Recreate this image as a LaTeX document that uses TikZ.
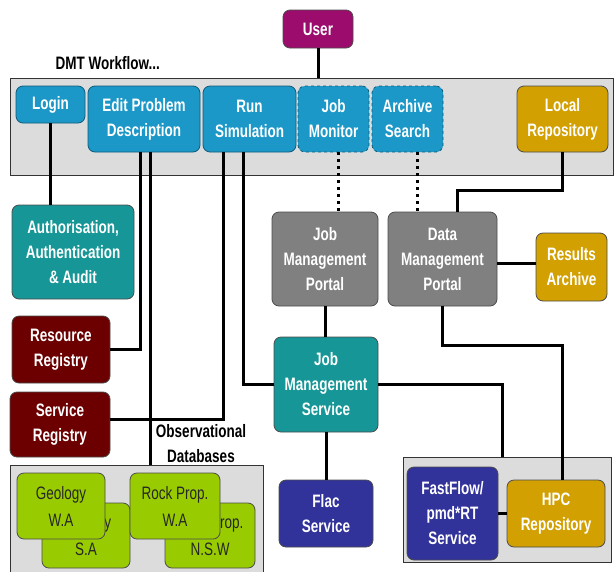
\documentclass[tikz,border=0pt]{standalone}
\usepackage{fontspec}
\setmainfont{Liberation Sans}[FakeStretch=0.75]

\definecolor{wfblue}{RGB}{28,152,200}
\definecolor{wfteal}{RGB}{22,150,150}
\definecolor{wfred}{RGB}{108,0,0}
\definecolor{wfgray}{RGB}{128,128,128}
\definecolor{wfgold}{RGB}{210,160,0}
\definecolor{wfnavy}{RGB}{50,50,155}
\definecolor{wfpurple}{RGB}{155,12,108}
\definecolor{wfgreen}{RGB}{153,204,0}
\definecolor{wfband}{RGB}{220,220,220}

\tikzset{
  box/.style={rounded corners=7pt, draw=black!70, line width=0.8pt, align=center,
    inner sep=0pt, text=white, font=\fontsize{18}{25}\selectfont\bfseries},
  bluebox/.style={box, fill=wfblue, draw=wfblue!60!black},
  monbox/.style={bluebox, dashed},
  tealbox/.style={box, fill=wfteal},
  redbox/.style={box, fill=wfred},
  graybox/.style={box, fill=wfgray},
  goldbox/.style={box, fill=wfgold},
  navybox/.style={box, fill=wfnavy},
  dbbox/.style={box, fill=wfgreen, text=black!85, font=\fontsize{18}{27}\selectfont},
  band/.style={draw=black!80, line width=0.8pt, fill=wfband, inner sep=0pt},
  link/.style={line width=3pt},
  dotlink/.style={line width=3pt, dash pattern=on 3pt off 4pt},
  title/.style={font=\fontsize{18}{25}\selectfont\bfseries, align=center}
}

\begin{document}
\begin{tikzpicture}[x=1pt, y=-1pt]
  \useasboundingbox (0,0) rectangle (615,571);

  % grey areas
  \node[band, minimum width=603pt, minimum height=97pt] (workflow) at (311.5,126.5) {};
  \node[band, minimum width=253pt, minimum height=110pt] (obsdb) at (136.5,520) {};
  \node[band, minimum width=208pt, minimum height=105pt] (hpcsite) at (507,509.5) {};

  \node[title, anchor=west] (dmt) at (52,63) {DMT Workflow...};
  \node[title] (obstitle) at (201,444) {Observational\\Databases};

  \node[box, fill=wfpurple, minimum width=70pt, minimum height=38pt] (user) at (318,29) {User};

  % workflow steps
  \node[bluebox, minimum width=69pt, minimum height=37pt] (login) at (50.5,104.5) {Login};
  \node[bluebox, minimum width=112pt, minimum height=66pt] (edit) at (144,119) {Edit Problem\\Description};
  \node[bluebox, minimum width=93pt, minimum height=66pt] (run) at (249.5,119) {Run\\Simulation};
  \node[monbox, minimum width=71pt, minimum height=66pt] (jobmon) at (333.5,119) {Job\\Monitor};
  \node[monbox, minimum width=71pt, minimum height=66pt] (archsearch) at (407.5,119) {Archive\\Search};
  \node[goldbox, minimum width=91pt, minimum height=66pt] (localrepo) at (562.5,119) {Local\\Repository};

  % services
  \node[tealbox, minimum width=122pt, minimum height=94pt] (auth) at (73,252) {Authorisation,\\Authentication\\\& Audit};
  \node[redbox, minimum width=98pt, minimum height=67pt] (resreg) at (61,349.5) {Resource\\Registry};
  \node[redbox, minimum width=100pt, minimum height=65pt] (servreg) at (60,424.5) {Service\\Registry};
  \node[graybox, minimum width=106pt, minimum height=94pt] (jmp) at (325,259) {Job\\Management\\Portal};
  \node[graybox, minimum width=109pt, minimum height=94pt] (dmp) at (442.5,259) {Data\\Management\\Portal};
  \node[goldbox, minimum width=71pt, minimum height=68pt] (resarch) at (571.5,267) {Results\\Archive};
  \node[tealbox, minimum width=104pt, minimum height=95pt] (jms) at (326,384.5) {Job\\Management\\Service};
  \node[navybox, minimum width=94pt, minimum height=67pt] (flac) at (326,513.5) {Flac\\Service};
  \node[navybox, minimum width=91pt, minimum height=93pt] (fastflow) at (452.5,513.5) {FastFlow/\\pmd*RT\\Service};
  \node[goldbox, minimum width=98pt, minimum height=67pt] (hpcrepo) at (556,513.5) {HPC\\Repository};

  % databases
  \node[dbbox, minimum width=88pt, minimum height=65pt] (geosa) at (86,535.5) {Geology\\S.A};
  \node[dbbox, minimum width=88pt, minimum height=66pt] (geowa) at (61,506) {Geology\\W.A};
  \node[dbbox, minimum width=90pt, minimum height=65pt] (rocknsw) at (210,535.5) {Rock Prop.\\N.S.W};
  \node[dbbox, minimum width=90pt, minimum height=66pt] (rockwa) at (175,506) {Rock Prop.\\W.A};

  % connectors
  \draw[link] (user) -- (user |- workflow.north);
  \draw[link] (login) -- (login |- auth.north);
  \draw[link] ([xshift=-4pt]edit.south) |- (resreg.east);
  \draw[link] ([xshift=6pt]edit.south) -- ([xshift=6pt]edit.south |- obsdb.north);
  \draw[link] ([xshift=-26.5pt]run.south) |- ([yshift=5pt]servreg.east);
  \draw[link] ([xshift=-6.5pt]run.south) |- (jms.west);
  \draw[dotlink] ([xshift=4.5pt]jobmon.south) -- ([xshift=4.5pt]jobmon.south |- jmp.north);
  \draw[dotlink] ([xshift=9.5pt]archsearch.south) -- ([xshift=9.5pt]archsearch.south |- dmp.north);
  \draw[link] (localrepo.south) -- ++(0,38) -| ([xshift=14.5pt]dmp.north);
  \draw[link] ([yshift=-4pt]dmp.east) -- ([yshift=-4pt]dmp.east -| resarch.west);
  \draw[link] (dmp.south) -- ++(0,39) -| ([xshift=6pt]hpcrepo.north);
  \draw[link] (jmp.south) -- (jmp.south |- jms.north);
  \draw[link] (jms.east) -| ([xshift=-5pt]hpcsite.north);
  \draw[link] (jms.south) -- (flac.north);
  \draw[link] (fastflow.east |- hpcrepo.west) -- (hpcrepo.west);
\end{tikzpicture}
\end{document}
